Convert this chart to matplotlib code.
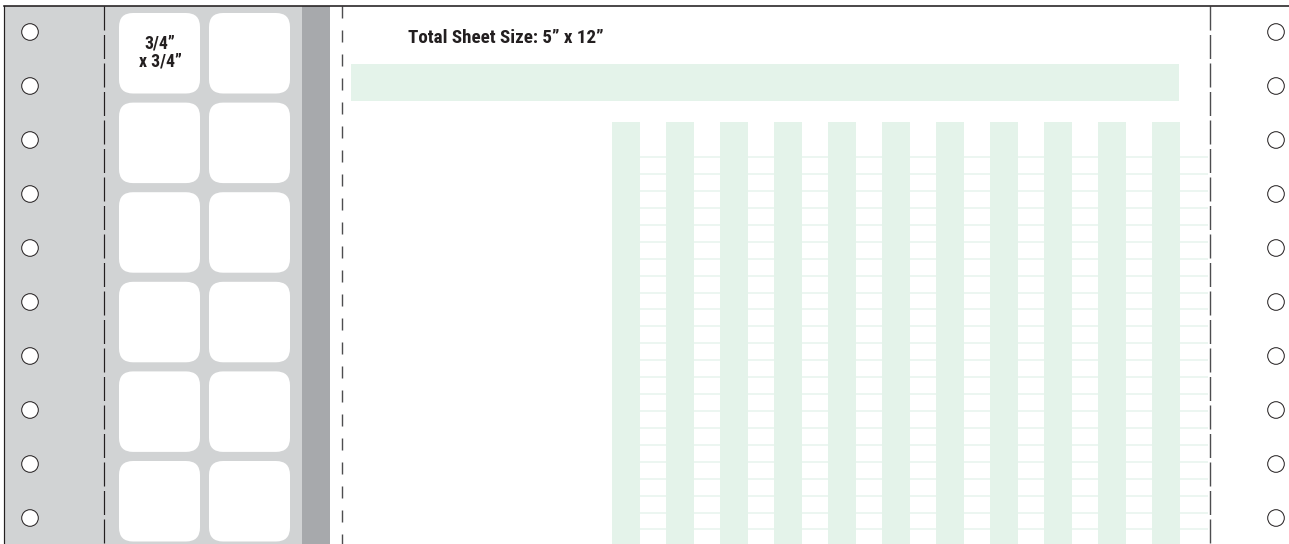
import matplotlib
matplotlib.use("Agg")
import matplotlib.pyplot as plt
from matplotlib.patches import Rectangle, FancyBboxPatch, Circle

plt.rcParams['lines.scale_dashes'] = False

W, H = 1289, 544

# sheet layout (pixel units of the reference)
hole_y = [32, 86, 140, 194, 248, 302, 356, 410, 464, 518]
hole_x = [30, 1276]
label_col_x = [119, 209]
label_row_y = [13, 102.6, 192.2, 281.8, 371.4, 461]
label_text = ["3/4\u201d", "x 3/4\u201d"]
band_cols_x = [612, 666, 720, 774, 828, 882, 936, 990, 1044, 1098, 1152]
rule_y = [157, 174, 191, 208, 225, 242, 259, 276, 293, 309, 326, 343,
          360, 377, 394, 411, 428, 445, 462, 479, 496, 513, 529]
title = "Total Sheet Size: 5\u201d x 12\u201d"

light_gray = "#d1d3d4"
dark_gray = "#a7a9ac"
green = "#e4f3ea"
rule_green = "#e8f4ee"
ink = "#231f20"
px = 0.72  # points per pixel at 100 dpi

fig = plt.figure(figsize=(W / 100, H / 100), dpi=100)
ax = fig.add_axes([0, 0, 1, 1])
ax.set_xlim(0, W)
ax.set_ylim(H, 0)
ax.axis('off')

# label liner strips
ax.add_patch(Rectangle((4, 6), 298, H - 6, color=light_gray, lw=0, zorder=1))
ax.add_patch(Rectangle((302, 6), 28, H - 6, color=dark_gray, lw=0, zorder=1))

# green header band and columns
ax.add_patch(Rectangle((351, 64), 828, 37, color=green, lw=0, zorder=1))
ax.hlines(rule_y, 640, 1208, colors=rule_green, lw=1.6 * px, zorder=1)
for x in band_cols_x:
    ax.add_patch(Rectangle((x, 122), 28, H - 122, color=green, lw=0, zorder=2))

# labels
for y in label_row_y:
    for x in label_col_x:
        ax.add_patch(FancyBboxPatch((x, y), 81, 80.5,
                                    boxstyle="round,pad=0,rounding_size=14",
                                    fc="white", ec="none", zorder=3))

fam = ['Roboto Condensed', 'Liberation Sans', 'DejaVu Sans']
ax.text(160, 44, label_text[0], ha='center', va='center', fontsize=12.8,
        fontweight='bold', family=fam, color=ink, zorder=5)
ax.text(160, 61.5, label_text[1], ha='center', va='center', fontsize=12.8,
        fontweight='bold', family=fam, color=ink, zorder=5)

ax.text(408, 38, title, ha='left', va='center', fontsize=13.7,
        fontweight='bold', family=fam, color=ink, zorder=5)

# pin-feed holes
for x in hole_x:
    for y in hole_y:
        ax.add_patch(Circle((x, y), 8.3, fc="white", ec=ink, lw=1.0 * px, zorder=4))

# perforation lines
ax.plot([104, 104], [6, H], color=ink, lw=1.2 * px,
        dashes=(24 * px, 4.5 * px), zorder=4)
ax.plot([342, 342], [6, H], color="#4d4d4f", lw=1.4 * px,
        dashes=(12 * px, 12 * px), zorder=4)
ax.plot([1210, 1210], [6, H], color="#4d4d4f", lw=1.4 * px,
        dashes=(24 * px, 4.5 * px), zorder=4)

# sheet border
ax.plot([4, W], [6, 6], color=ink, lw=1.6 * px, zorder=6)
ax.plot([4, 4], [6, H], color=ink, lw=1.2 * px, zorder=6)

fig.savefig("out.png", dpi=100)
